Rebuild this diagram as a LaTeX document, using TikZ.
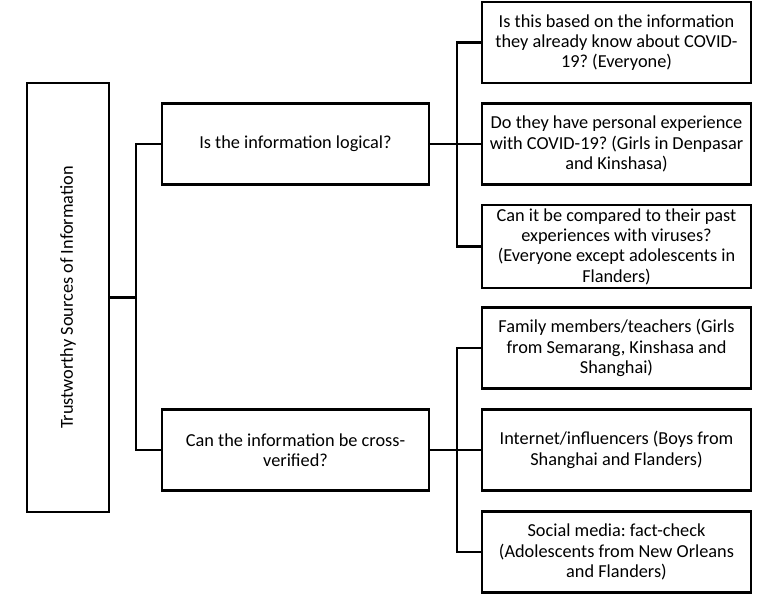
\documentclass[tikz,border=0pt]{standalone}
\usepackage{fontspec}
\setmainfont{Carlito}
\usepackage{graphicx}
\usepackage{tikz}
\usetikzlibrary{positioning}
\frenchspacing
\tikzstyle{rootbox} = [rectangle, minimum width=82pt, minimum height=429pt, text centered, draw=black, line width=2.2pt]
\tikzstyle{question} = [rectangle, minimum width=267pt, minimum height=81pt, text centered, draw=black, line width=2.2pt, align=center]
\tikzstyle{answer} = [rectangle, minimum width=269pt, minimum height=81pt, text centered, draw=black, line width=2.2pt, align=center]
\tikzstyle{branch} = [line width=2.2pt]

\begin{document}
\begin{tikzpicture}[x=1pt, y=-1pt, font=\fontsize{18.3}{20.3}\selectfont]
        \useasboundingbox (0,0) rectangle (780,597);
        \node (root) [rootbox] at (68,297.5) {\rotatebox{90}{Trustworthy Sources of Information}};
        \node (logical) [question] at (295.5,144) {Is the information logical?};
        \node (verify) [question] at (295.5,450) {Can the information be cross-\\verified?};

        \node (known) [answer] at (616.5,42.5) {Is this based on the information\\they already know about COVID-\\19? (Everyone)};
        \node (personal) [answer] at (616.5,144) {Do they have personal experience\\with COVID-19? (Girls in Denpasar\\and Kinshasa)};
        \node (past) [answer] at (616.5,246.5) {Can it be compared to their past\\experiences with viruses?\\(Everyone except adolescents in\\Flanders)};
        \node (family) [answer] at (616.5,348) {Family members/teachers (Girls\\from Semarang, Kinshasa and\\Shanghai)};
        \node (internet) [answer] at (616.5,450) {Internet/influencers (Boys from\\Shanghai and Flanders)};
        \node (social) [answer] at (616.5,552) {Social media: fact-check\\(Adolescents from New Orleans\\and Flanders)};

        \draw [branch] (root.east) -- ++(26,0) |- (logical.west);
        \draw [branch] (root.east) -- ++(26,0) |- (verify.west);
        \draw [branch] (logical.east) -- ++(27,0) |- (known.west);
        \draw [branch] (logical.east) -- (personal.west);
        \draw [branch] (logical.east) -- ++(27,0) |- (past.west);
        \draw [branch] (verify.east) -- ++(27,0) |- (family.west);
        \draw [branch] (verify.east) -- (internet.west);
        \draw [branch] (verify.east) -- ++(27,0) |- (social.west);

    \end{tikzpicture}
\end{document}
